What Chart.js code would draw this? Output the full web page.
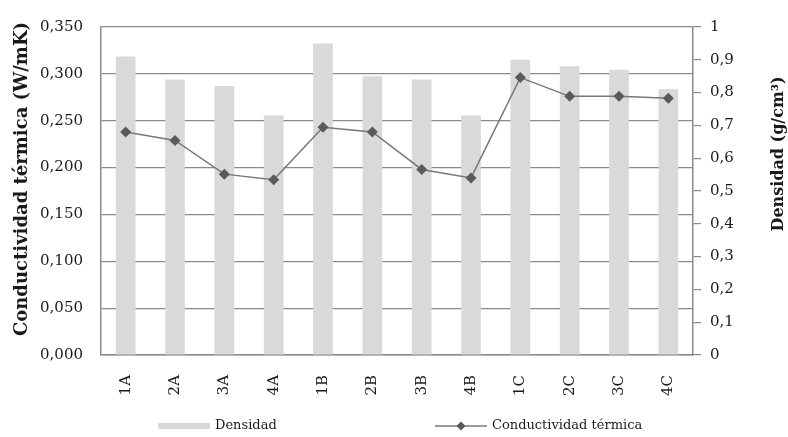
<!DOCTYPE html>
<html>
<head>
<meta charset="utf-8">
<script src="https://cdn.jsdelivr.net/npm/chart.js@4/dist/chart.umd.min.js"></script>
<style>
  html, body { margin: 0; padding: 0; background: #fff; }
  #wrap { width: 788px; height: 437px; position: relative; }
</style>
</head>
<body>
<div id="wrap"><canvas id="c" width="788" height="437"></canvas></div>
<script>
// Muestras
const categories = ['1A', '2A', '3A', '4A', '1B', '2B', '3B', '4B', '1C', '2C', '3C', '4C'];
// Densidad (g/cm³) – eje derecho
const densidad = [0.91, 0.84, 0.82, 0.73, 0.95, 0.85, 0.84, 0.73, 0.90, 0.88, 0.87, 0.81];
// Conductividad térmica (W/mK) – eje izquierdo
const conductividad = [0.238, 0.229, 0.193, 0.187, 0.243, 0.238, 0.198, 0.189, 0.296, 0.276, 0.276, 0.274];
// Etiquetas de la leyenda y de los ejes
const legendLabels = ['Densidad', 'Conductividad térmica'];
const leftTitle = 'Conductividad térmica (W/mK)';
const rightTitle = 'Densidad (g/cm³)';

const FONT = "'DejaVu Serif', serif";
const TEXT = '#1a1a1a';
const GRID = '#8a8a8a';
const BAR = '#d9d9d9';
const LINE = '#787878';
const MARK = '#5a5a5a';

const comma = (s) => s.replace('.', ',');

// Títulos de los ejes, ambos leídos de abajo hacia arriba
const axisTitles = {
  id: 'axisTitles',
  afterDraw(chart) {
    const ctx = chart.ctx;
    const draw = (text, x, y, size) => {
      ctx.save();
      ctx.translate(x, y);
      ctx.rotate(-Math.PI / 2);
      ctx.font = 'bold ' + size + 'px ' + FONT;
      ctx.fillStyle = TEXT;
      ctx.textAlign = 'center';
      ctx.textBaseline = 'middle';
      ctx.fillText(text, 0, 0);
      ctx.restore();
    };
    draw(leftTitle, 22, 179, 18);
    draw(rightTitle, 779, 154, 16);
  }
};

// Leyenda inferior con las dos muestras separadas
const bottomLegend = {
  id: 'bottomLegend',
  afterDraw(chart) {
    const ctx = chart.ctx;
    const cx = chart.width / 2;
    const y = 426;
    ctx.save();
    // Densidad
    ctx.fillStyle = BAR;
    ctx.fillRect(cx - 236, y - 3, 52, 6);
    ctx.fillStyle = TEXT;
    ctx.font = '13px ' + FONT;
    ctx.textBaseline = 'middle';
    ctx.textAlign = 'left';
    ctx.fillText(legendLabels[0], cx - 179, y);
    // Conductividad térmica
    ctx.strokeStyle = LINE;
    ctx.lineWidth = 1.5;
    ctx.beginPath();
    ctx.moveTo(cx + 41, y);
    ctx.lineTo(cx + 93, y);
    ctx.stroke();
    ctx.fillStyle = MARK;
    ctx.beginPath();
    const dx = cx + 67, r = 4.5;
    ctx.moveTo(dx, y - r);
    ctx.lineTo(dx + r, y);
    ctx.lineTo(dx, y + r);
    ctx.lineTo(dx - r, y);
    ctx.closePath();
    ctx.fill();
    ctx.fillStyle = TEXT;
    ctx.fillText(legendLabels[1], cx + 98, y);
    ctx.restore();
  }
};

new Chart(document.getElementById('c'), {
  data: {
    labels: categories,
    datasets: [
      {
        type: 'line',
        label: legendLabels[1],
        data: conductividad,
        yAxisID: 'y',
        order: 0,
        borderColor: LINE,
        borderWidth: 1.5,
        pointStyle: 'rectRot',
        pointRadius: 5.5,
        pointBackgroundColor: MARK,
        pointBorderColor: MARK,
        pointBorderWidth: 0,
        tension: 0
      },
      {
        type: 'bar',
        label: legendLabels[0],
        data: densidad,
        yAxisID: 'y1',
        order: 1,
        backgroundColor: BAR,
        borderWidth: 0,
        categoryPercentage: 1,
        barPercentage: 0.4
      }
    ]
  },
  options: {
    responsive: false,
    animation: false,
    devicePixelRatio: 1,
    layout: { padding: { top: 18, left: 0, right: 0, bottom: 0 } },
    plugins: {
      legend: { display: false },
      tooltip: { enabled: false }
    },
    scales: {
      x: {
        grid: { display: false },
        border: { display: true, color: GRID, width: 1.5 },
        ticks: {
          color: TEXT,
          font: { family: FONT, size: 15 },
          minRotation: 90,
          maxRotation: 90,
          padding: 12
        },
        afterFit(scale) { scale.height = 82; }
      },
      y: {
        position: 'left',
        min: 0,
        max: 0.35,
        ticks: {
          stepSize: 0.05,
          color: TEXT,
          font: { family: FONT, size: 15 },
          padding: 18,
          callback: (v) => comma(Number(v).toFixed(3))
        },
        grid: { color: GRID, lineWidth: 1.2, drawTicks: false },
        border: { display: true, color: GRID, width: 1.5 },
        afterFit(scale) { scale.width = 101; }
      },
      y1: {
        position: 'right',
        min: 0,
        max: 1,
        ticks: {
          stepSize: 0.1,
          color: TEXT,
          font: { family: FONT, size: 15 },
          padding: 9,
          callback: (v) => {
            const n = Math.round(Number(v) * 10) / 10;
            return (n === 0 || n === 1) ? String(n) : comma(n.toFixed(1));
          }
        },
        grid: { drawOnChartArea: false, color: GRID, lineWidth: 1.2, tickLength: 8 },
        border: { display: true, color: GRID, width: 1.5 },
        afterFit(scale) { scale.width = 95; }
      }
    }
  },
  plugins: [axisTitles, bottomLegend]
});
</script>
</body>
</html>
